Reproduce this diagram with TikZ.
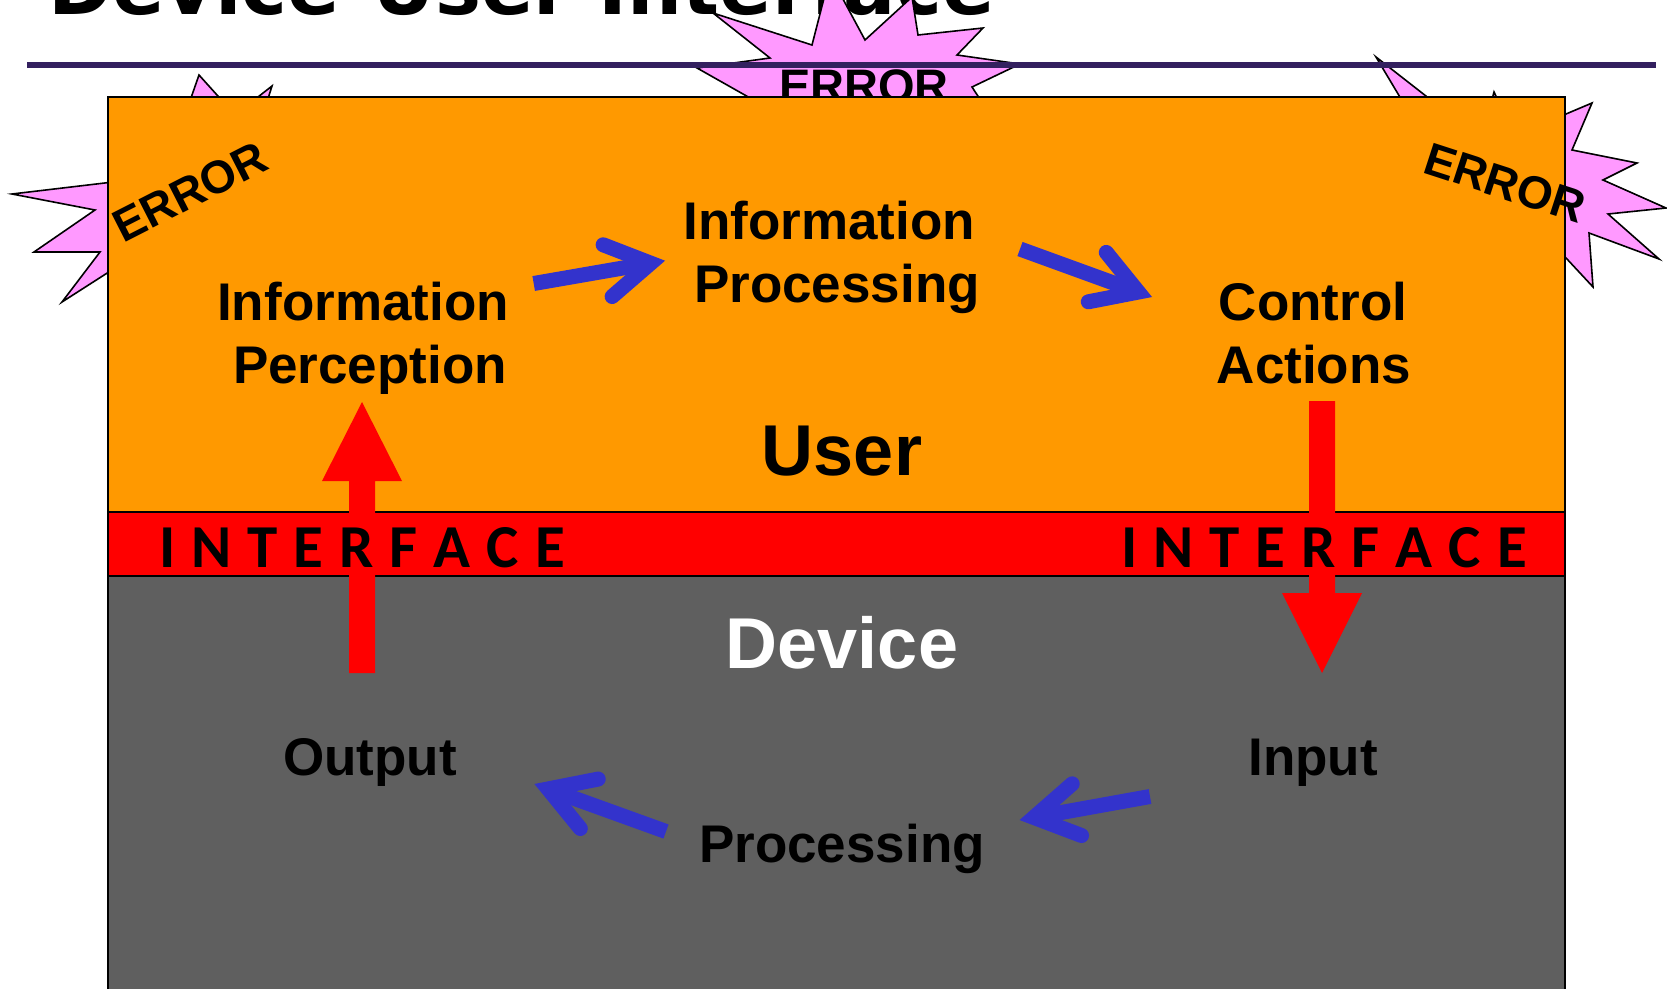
\documentclass[tikz,border=0pt]{standalone}
\usepackage{fontspec}
\setmainfont{Liberation Sans}
\newfontfamily\calfont{Carlito}
\newfontfamily\dejafont{DejaVu Sans}
\usetikzlibrary{calc}
\definecolor{orng}{HTML}{FF9900}
\definecolor{dgray}{HTML}{5F5F5F}
\definecolor{pinkc}{HTML}{FF99FF}
\definecolor{blu}{HTML}{3333CC}
\definecolor{purp}{HTML}{33205F}
\definecolor{redc}{HTML}{FF0000}
\newcommand\ifacetxt{I\hspace{16pt}N\hspace{16pt}T\hspace{16pt}E\hspace{16pt}R\hspace{16pt}F\hspace{16pt}A\hspace{16pt}C\hspace{16pt}E}
\begin{document}
\begin{tikzpicture}[x=1pt,y=-1pt,
 lbl/.style={font=\bfseries\fontsize{53}{63}\selectfont, anchor=base, inner sep=0pt},
 big/.style={font=\bfseries\fontsize{72}{80}\selectfont, anchor=base, inner sep=0pt},
 err/.style={font=\bfseries\fontsize{46}{50}\selectfont, inner sep=0pt},
 iface/.style={font=\calfont\bfseries\fontsize{61}{70}\selectfont, anchor=base west, inner sep=0pt},
 star/.style={fill=pinkc, draw=black, line width=1.6pt, line join=miter},
 bshaft/.style={draw=blu, line width=15pt, line cap=butt},
 bhead/.style={draw=blu, line width=15pt, line cap=round, line join=miter},
 panel/.style={draw=black, line width=1.6pt}]
\useasboundingbox (0,0) rectangle (1667,988);

% title (cut off at top)
\node[anchor=base west, inner sep=0pt] (title) at (48,14) {\resizebox{946pt}{!}{\dejafont\bfseries Device-User Interface}};

% stars
\draw[star] (697,68) -- (770,58) -- (713,13) -- (812,45) -- (830,-25) -- (865,40) -- (912,-3) -- (918,35) -- (983,28) -- (957,55) -- (1020,64) -- (972,87) -- (1000,130) -- (770,130) -- (766,107) -- cycle;
\draw[star] (199,75) -- (235,115) -- (272,86) -- (255,140) -- (200,250) -- (140,252) -- (62,302) -- (100,252) -- (34,252) -- (95,210) -- (12,194) -- (130,180) -- (185,115) -- cycle;
\draw[star] (1410,114) -- (1376,57) -- (1440,107) -- (1488,115) -- (1494,92) -- (1505,115) -- (1540,125) -- (1592,103) -- (1572,150) -- (1637,163) -- (1603,180) -- (1666,208) -- (1608,214) -- (1659,259) -- (1589,233) -- (1593,287) -- (1540,230) -- (1420,200) -- cycle;
\node[err, anchor=base, font=\bfseries\fontsize{47}{50}\selectfont] (errtop) at (864,102) {ERROR};

% title rule
\draw[purp, line width=6pt] (27,65) -- (1656,65);

% panels
\path[panel, fill=orng] (108,97) rectangle (1565,512);
\path[panel, fill=redc] (108,512) rectangle (1565,576);
\path[panel, fill=dgray] (108,576) rectangle (1565,1000);

% red block arrows
\coordinate (upS) at (362,673); \coordinate (upT) at (362,402);
\fill[redc] ($(upS)+(-13,0)$) -- ($(upS)+(13,0)$) -- (375,481) -- (402,481) -- (upT) -- (322,481) -- (349,481) -- cycle;
\coordinate (dnS) at (1322,401); \coordinate (dnT) at (1322,673);
\fill[redc] ($(dnS)+(-13,0)$) -- ($(dnS)+(13,0)$) -- (1335,593) -- (1362,593) -- (dnT) -- (1282,593) -- (1309,593) -- cycle;

% interface labels
\node[iface] (ifl) at (159,567) {\ifacetxt};
\node[iface] (ifr) at (1121,567) {\ifacetxt};

% text labels
\node[lbl] (perc1) at (363,320) {Information};
\node[lbl] (perc2) at (370,383) {Perception};
\node[lbl] (proc1) at (829,239) {Information};
\node[lbl] (proc2) at (837,302) {Processing};
\node[lbl] (ctrl1) at (1313,320) {Control};
\node[lbl] (ctrl2) at (1314,383) {Actions};
\node[big] (user) at (842,475) {User};
\node[big, text=white] (device) at (842,668) {Device};
\node[lbl] (output) at (370,775) {Output};
\node[lbl] (input) at (1313,775) {Input};
\node[lbl] (dproc) at (842,862) {Processing};

\node[err, rotate=27] (errl) at (190,192) {ERROR};
\node[err, rotate=-18] (errr) at (1505,183) {ERROR};

% blue arrows
\coordinate (a1t) at (533.7,283.5); \coordinate (a1h) at (665,260.7);
\coordinate (a2t) at (1020,249);   \coordinate (a2h) at (1152,297);
\coordinate (a3t) at (1150,796.5); \coordinate (a3h) at (1019.6,820);
\coordinate (a4t) at (666,831.5);  \coordinate (a4h) at (534.5,784);
\foreach \a in {a1,a2,a3,a4}{
  \coordinate (\a v) at ($(\a h)!14.5pt!(\a t)$);
  \draw[bshaft] (\a t) -- (\a v);
  \draw[bhead] ($(\a v)!51pt!31:(\a t)$) -- (\a v) -- ($(\a v)!51pt!-31:(\a t)$);
}
\end{tikzpicture}
\end{document}
